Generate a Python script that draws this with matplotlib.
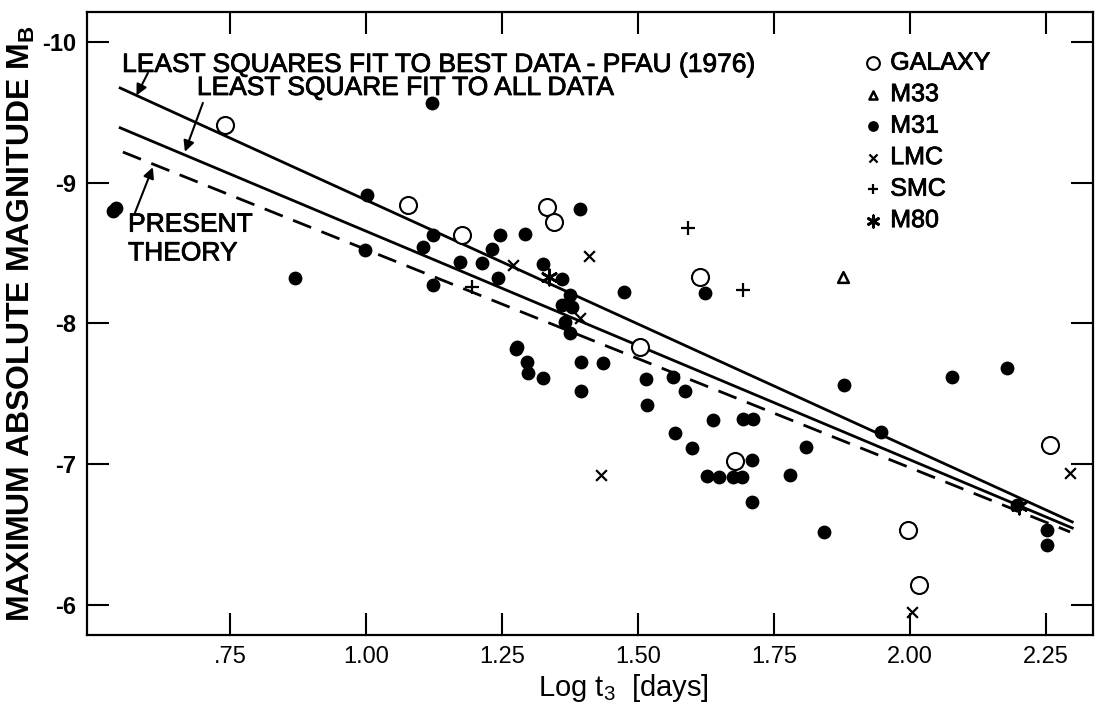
import matplotlib
matplotlib.use("Agg")
import matplotlib.pyplot as plt
import matplotlib.patheffects as pe

plt.rcParams['font.family'] = ['Liberation Sans', 'DejaVu Sans']
plt.rcParams['mathtext.fontset'] = 'custom'
plt.rcParams['mathtext.rm'] = 'Liberation Sans'
plt.rcParams['mathtext.bf'] = 'Liberation Sans:bold'
plt.rcParams['axes.unicode_minus'] = False

# --- data (log t3 [days], M_B) ---
galaxy_x = [0.741, 1.077, 1.176, 1.333, 1.346, 1.504, 1.614, 1.678, 1.996, 2.017, 2.257]
galaxy_m = [-9.41, -8.84, -8.63, -8.83, -8.72, -7.83, -8.33, -7.02, -6.53, -6.14, -7.14]

m33_x = [1.877]
m33_m = [-8.33]

m31_x = [0.535, 0.541, 1.121, 1.002, 1.123, 1.105, 0.998, 0.870, 1.123,
         1.246, 1.292, 1.232, 1.213, 1.173, 1.243, 1.278,
         1.393, 1.325, 1.360, 1.375, 1.360, 1.379, 1.366, 1.474, 1.375,
         1.276, 1.296, 1.298, 1.325, 1.395, 1.436, 1.395,
         1.515, 1.564, 1.517, 1.568, 1.586, 1.638, 1.693, 1.711, 1.599,
         1.710, 1.809, 1.627, 1.649, 1.675, 1.691, 1.779, 1.710, 1.623,
         1.879, 2.077, 2.178, 1.947, 1.842, 2.197, 2.252, 2.252]
m31_m = [-8.80, -8.82, -9.567, -8.913, -8.629, -8.543, -8.522, -8.323, -8.274,
         -8.629, -8.636, -8.529, -8.430, -8.437, -8.323, -7.833,
         -8.814, -8.423, -8.316, -8.203, -8.131, -8.117, -8.011, -8.224, -7.933,
         -7.819, -7.726, -7.648, -7.613, -7.726, -7.719, -7.520,
         -7.606, -7.620, -7.421, -7.222, -7.520, -7.314, -7.321, -7.321, -7.115,
         -7.030, -7.123, -6.916, -6.909, -6.909, -6.909, -6.924, -6.735, -8.217,
         -7.563, -7.620, -7.684, -7.229, -6.519, -6.710, -6.533, -6.426]

lmc_x = [1.270, 1.410, 1.393, 1.432, 2.294, 2.004]
lmc_m = [-8.416, -8.480, -8.039, -6.924, -6.936, -5.95]

smc_x = [1.592, 1.693, 1.195]
smc_m = [-8.678, -8.238, -8.259]

m80_x = [1.336, 2.200]
m80_m = [-8.330, -6.700]

# fitted relations (end points)
fit_x = [0.548, 2.298]
best_fit = [-9.673, -6.590]
all_fit = [-9.390, -6.547]
theory_x = [0.553, 2.294]
theory = [-9.218, -6.519]

xticks = [0.75, 1.00, 1.25, 1.50, 1.75, 2.00, 2.25]
xticklabels = ['.75', '1.00', '1.25', '1.50', '1.75', '2.00', '2.25']
yticks = [-10, -9, -8, -7, -6]
yticklabels = ['-10', '-9', '-8', '-7', '-6']

ink = [pe.withStroke(linewidth=0.6, foreground='black')]

fig = plt.figure(figsize=(10.97, 7.17), dpi=100)
ax = fig.add_axes([0.0793, 0.1144, 0.9170, 0.8689])

ax.plot(fit_x, best_fit, color='black', lw=2.0)
ax.plot(fit_x, all_fit, color='black', lw=2.0)
ax.plot(theory_x, theory, color='black', lw=2.0, dashes=(7, 4))

ax.scatter(galaxy_x, galaxy_m, s=150, facecolors='white', edgecolors='black',
           linewidths=1.5, zorder=3, label='GALAXY')
ax.scatter(m33_x, m33_m, s=60, marker='^', facecolors='white', edgecolors='black',
           linewidths=1.8, zorder=3, label='M33')
ax.scatter(m31_x, m31_m, s=80, color='black', zorder=3, label='M31')
ax.scatter(lmc_x, lmc_m, s=60, marker='x', color='black', linewidths=1.6,
           zorder=3, label='LMC')
ax.scatter(smc_x, smc_m, s=110, marker='+', color='black', linewidths=1.6,
           zorder=3, label='SMC')
ax.scatter(m80_x, m80_m, s=120, marker=(6, 2, 0), color='black', linewidths=2.0,
           zorder=3, label='M80')

leg = ax.legend(loc='upper left', bbox_to_anchor=(0.76, 0.958), frameon=False,
                fontsize=18, markerscale=0.75, handlelength=0.7, handletextpad=0.35,
                labelspacing=0.3, borderpad=0, scatterpoints=1)
for t in leg.get_texts():
    t.set_path_effects(ink)

notes = [
    ax.text(0.5515, -9.837, 'LEAST SQUARES FIT TO BEST DATA - PFAU (1976)',
            fontsize=19, ha='left', va='center'),
    ax.text(0.689, -9.673, 'LEAST SQUARE FIT TO ALL DATA',
            fontsize=19, ha='left', va='center'),
    ax.text(0.5625, -8.60, 'PRESENT\nTHEORY', fontsize=19, ha='left', va='center',
            linespacing=1.25),
]
for t in notes:
    t.set_path_effects(ink)

arrow = dict(arrowstyle='-|>', color='black', lw=1.5, mutation_scale=16,
             shrinkA=0, shrinkB=0)
ax.annotate('', xy=(0.578, -9.62), xytext=(0.599, -9.78), arrowprops=arrow)
ax.annotate('', xy=(0.667, -9.22), xytext=(0.700, -9.567), arrowprops=arrow)
ax.annotate('', xy=(0.608, -9.11), xytext=(0.575, -8.785), arrowprops=arrow)

ax.set_xlim(0.487, 2.336)
ax.set_ylim(-5.787, -10.213)
ax.set_xticks(xticks)
ax.set_xticklabels(xticklabels)
ax.set_yticks(yticks)
ax.set_yticklabels(yticklabels, fontweight='bold')
ax.tick_params(direction='in', length=16, width=1.5, top=True, right=True,
               labelsize=17, pad=8)
for sp in ax.spines.values():
    sp.set_linewidth(1.6)

ax.set_xlabel('Log t$_3$  [days]', fontsize=21)
ax.xaxis.set_label_coords(0.533, -0.06, transform=ax.transAxes)
ax.xaxis.label.set_va('top')
ax.set_ylabel(r'MAXIMUM ABSOLUTE MAGNITUDE M$_\mathbf{B}$', fontsize=23,
              fontweight='bold')
ax.yaxis.set_label_coords(-0.05, 0.5)

fig.savefig('out.png', dpi=100)
